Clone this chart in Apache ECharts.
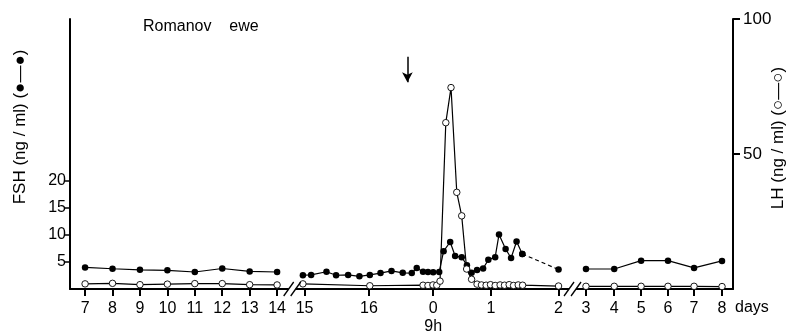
<!DOCTYPE html>
<html><head><meta charset="utf-8">
<script src="https://cdn.jsdelivr.net/npm/echarts@6/dist/echarts.min.js"></script>
<style>html,body{margin:0;padding:0;background:#fff}#c{width:792px;height:334px}</style>
</head><body><div id="c"></div>
<script>
// Positions along the broken time axis (plot units), and their labels
const tickPositions = [7,8,9,10,11,12,13,14,15,17.35,19.69,21.80,24.26,25.26,26.29,27.27,28.25,29.20,30.22];
const tickLabels = ['7','8','9','10','11','12','13','14','15','16','0\n9h','1','2','3','4','5','6','7','8'];
const breakPositions = [14.55, 24.77];
const arrowPosition = 18.75;
const arrowFSH = [43, 38.3];

// FSH (ng/ml), filled circles
const fshPhase1X = [7,8,9,10,11,12,13,14];
const fshPhase1 = [4.0,3.75,3.55,3.45,3.15,3.8,3.25,3.15];
const fshPhase2X = [14.94,15.24,15.80,16.15,16.59,17.0,17.38,17.77,18.17,18.58,18.91,19.09,19.32,19.50,19.69,19.91,20.07,20.31,20.49,20.73,20.92,21.09,21.29,21.51,21.70,21.95,22.09,22.33,22.53,22.73,22.94];
const fshPhase2 = [2.55,2.6,3.2,2.55,2.6,2.35,2.6,2.95,3.35,3.0,2.95,3.9,3.2,3.15,3.1,3.15,7.0,8.7,6.1,5.9,4.4,3.0,3.5,3.8,5.4,5.9,10.1,7.4,5.75,8.8,6.5];
const fshGapX = [22.94, 24.26];
const fshGap = [6.5, 3.6];
const fshPhase3X = [25.26,26.29,27.27,28.25,29.20,30.22];
const fshPhase3 = [3.7,3.7,5.25,5.25,3.9,5.2];

// LH (ng/ml), open circles
const lhPhase1X = [7,8,9,10,11,12,13,14];
const lhPhase1 = [1.9,2.1,1.6,1.8,2.0,2.0,1.6,1.5];
const lhPhase2X = [14.94,17.38,19.32,19.50,19.68,19.82,19.94,20.15,20.34,20.55,20.73,20.91,21.09,21.29,21.45,21.62,21.78,21.95,22.13,22.29,22.46,22.62,22.79,22.95,24.26];
const lhPhase2 = [1.9,1.2,1.4,1.3,1.5,1.4,2.9,61.6,74.6,35.8,27.1,7.4,3.6,1.8,1.5,1.4,1.6,1.3,1.5,1.4,1.6,1.3,1.5,1.4,1.1];
const lhPhase3X = [25.26,26.29,27.27,28.25,29.20,30.22];
const lhPhase3 = [1.0,1.0,1.0,1.0,1.0,0.9];

const FONT = 'Liberation Sans';
const zip = (xs, ys) => xs.map((x, i) => [x, ys[i]]);

const chart = echarts.init(document.getElementById('c'), null, {renderer: 'canvas'});

const fshStyle = (data, dashed) => ({
  type: 'line', yAxisIndex: 0, data: data,
  symbol: 'circle', symbolSize: 6.5, showSymbol: true,
  itemStyle: {color: '#000'},
  lineStyle: {color: '#000', width: 1.2, type: dashed ? [4, 3] : 'solid'},
  emphasis: {disabled: true}, animation: false
});
const lhStyle = (data) => ({
  type: 'line', yAxisIndex: 1, data: data,
  symbol: 'circle', symbolSize: 6.5, showSymbol: true,
  itemStyle: {color: '#fff', borderColor: '#000', borderWidth: 0.9},
  lineStyle: {color: '#000', width: 1.2},
  emphasis: {disabled: true}, animation: false, z: 3
});

const labelFor = v => {
  const i = tickPositions.findIndex(p => Math.abs(p - v) < 1e-6);
  return i >= 0 ? tickLabels[i] : '';
};

const fsh2 = fshStyle(zip(fshPhase2X, fshPhase2), false);
fsh2.markLine = {
  silent: true, animation: false,
  symbol: ['none', 'arrow'], symbolSize: [8, 10],
  label: {show: false},
  lineStyle: {color: '#000', width: 1.5, type: 'solid'},
  data: [[{coord: [arrowPosition, arrowFSH[0]]}, {coord: [arrowPosition, arrowFSH[1]]}]]
};

chart.setOption({
  animation: false,
  backgroundColor: '#fff',
  title: {
    text: 'Romanov    ewe', left: 143, top: 19, padding: 0,
    textStyle: {fontFamily: FONT, fontSize: 16, fontWeight: 'normal', color: '#000'}
  },
  grid: {left: 70, right: 59, top: 19, bottom: 45, containLabel: false, outerBoundsMode: 'none'},
  xAxis: {
    type: 'value', min: 6.45, max: 30.62,
    axisLine: {lineStyle: {color: '#000', width: 2}},
    axisTick: {show: true, customValues: tickPositions, length: 7, lineStyle: {color: '#000', width: 2}},
    axisLabel: {customValues: tickPositions, formatter: labelFor, margin: 11, color: '#000',
      fontFamily: FONT, fontSize: 16, lineHeight: 18},
    splitLine: {show: false},
    name: 'days', nameLocation: 'end', nameGap: 2,
    nameTextStyle: {fontFamily: FONT, fontSize: 16, color: '#000', align: 'left', verticalAlign: 'top', padding: [11, 0, 0, 0]}
  },
  yAxis: [
    {
      type: 'value', min: 0, max: 50, position: 'left',
      axisLine: {show: true, lineStyle: {color: '#000', width: 2}},
      axisTick: {show: true, customValues: [5, 10, 15, 20], length: 5, lineStyle: {color: '#000', width: 1.5}},
      axisLabel: {customValues: [5, 10, 15, 20], margin: 4, color: '#000', fontFamily: FONT, fontSize: 16, padding: [0, 0, 5, 0]},
      splitLine: {show: false}
    },
    {
      type: 'value', min: 0, max: 100, position: 'right',
      axisLine: {show: true, lineStyle: {color: '#000', width: 2}},
      axisTick: {show: true, customValues: [50, 100], length: 7, lineStyle: {color: '#000', width: 2}},
      axisLabel: {customValues: [50, 100], margin: 10, color: '#000', fontFamily: FONT, fontSize: 17, padding: [0, 0, 4, 0]},
      splitLine: {show: false}
    }
  ],
  series: [
    fshStyle(zip(fshPhase1X, fshPhase1), false),
    fsh2,
    fshStyle(zip(fshGapX, fshGap), true),
    fshStyle(zip(fshPhase3X, fshPhase3), false),
    lhStyle(zip(lhPhase1X, lhPhase1)),
    lhStyle(zip(lhPhase2X, lhPhase2)),
    lhStyle(zip(lhPhase3X, lhPhase3))
  ]
});

// axis titles and axis-break marks
const gfx = [
  {type: 'text', x: 20, y: 127, rotation: Math.PI / 2,
   style: {text: 'FSH (ng / ml) (●—●)', fontFamily: FONT, fontSize: 17, fill: '#000', align: 'center', verticalAlign: 'middle'}},
  {type: 'text', x: 778, y: 138, rotation: Math.PI / 2,
   style: {text: 'LH (ng / ml) (○—○)', fontFamily: FONT, fontSize: 17, fill: '#000', align: 'center', verticalAlign: 'middle'}}
];
breakPositions.forEach(u => {
  const p = chart.convertToPixel({xAxisIndex: 0, yAxisIndex: 0}, [u, 0]);
  const cx = p[0], cy = p[1];
  gfx.push({type: 'rect', shape: {x: cx - 3.5, y: cy - 2, width: 7, height: 4}, style: {fill: '#fff'}, z: 10});
  [-3.5, 3.5].forEach(o => {
    gfx.push({type: 'line', shape: {x1: cx + o - 5, y1: cy + 7, x2: cx + o + 5, y2: cy - 7},
      style: {stroke: '#000', lineWidth: 1.3}, z: 11});
  });
});
chart.setOption({graphic: gfx});
</script>
</body></html>
